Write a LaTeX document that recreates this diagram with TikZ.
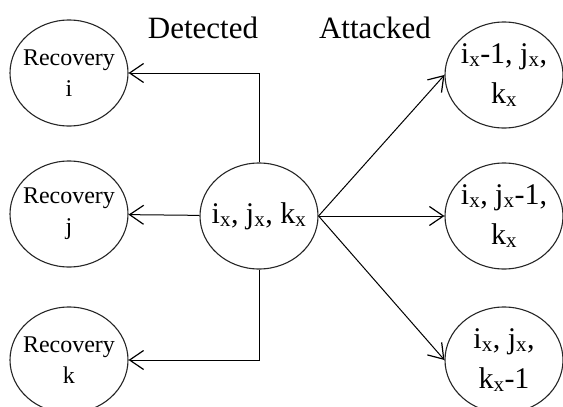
\documentclass[tikz,border=0pt]{standalone}
\usepackage{fontspec}
\setmainfont{Liberation Serif}
\usetikzlibrary{shapes.geometric,arrows.meta}
\newcommand{\zl}[1]{\makebox[0pt]{#1}}
\begin{document}
\begin{tikzpicture}[x=1pt,y=-1pt,
  state/.style={ellipse,draw=black!85,line width=1.1pt,minimum width=118pt,minimum height=106pt,inner sep=0pt,align=center},
  rec/.style={state,font=\fontsize{24}{31}\selectfont},
  val/.style={state,font=\fontsize{30}{40}\selectfont},
  lbl/.style={font=\fontsize{31}{34}\selectfont},
  arr/.style={-{Straight Barb[length=14pt,width=19pt,line width=1.2pt]},line width=1pt}]
\useasboundingbox (0,0) rectangle (563,407);
\node[rec] (ri) at (69,73) {\zl{Recovery}\\\zl{i}};
\node[rec] (rj) at (69,214) {\zl{Recovery}\\\zl{j}};
\node[rec] (rk) at (69,360) {\zl{Recovery}\\\zl{k}};
\node[val] (c) at (259,216) {\zl{i\textsubscript{x}, j\textsubscript{x}, k\textsubscript{x}}};
\node[val] (a1) at (504,75) {\zl{i\textsubscript{x}-1, j\textsubscript{x},}\\\zl{k\textsubscript{x}}};
\node[val] (a2) at (504,216) {\zl{i\textsubscript{x}, j\textsubscript{x}-1,}\\\zl{k\textsubscript{x}}};
\node[val] (a3) at (504,360) {\zl{i\textsubscript{x}, j\textsubscript{x},}\\\zl{k\textsubscript{x}-1}};
\node[lbl] (det) at (203,28) {Detected};
\node[lbl] (att) at (375,28) {Attacked};
\draw[arr] (c.north) |- (ri);
\draw[arr] (c) -- (rj);
\draw[arr] (c.south) |- (rk);
\draw[arr] (c.east) -- (a1.west);
\draw[arr] (c.east) -- (a2.west);
\draw[arr] (c.east) -- (a3.west);
\end{tikzpicture}
\end{document}
